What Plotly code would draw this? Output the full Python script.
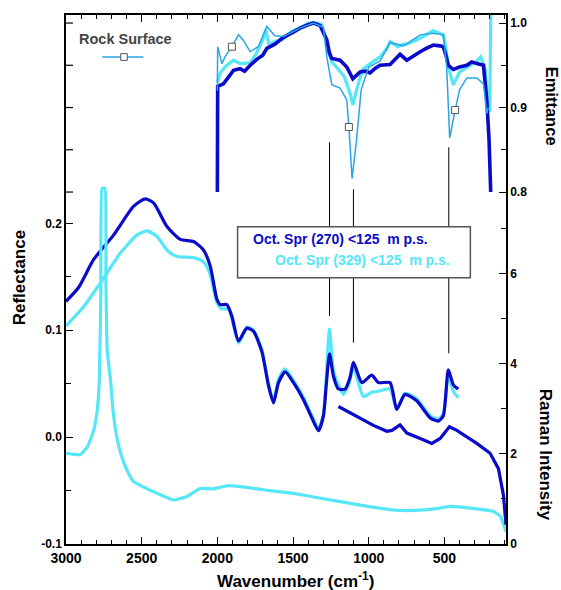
import plotly.graph_objects as go

# ---------------- data ----------------
# Reflectance (left axis)
refl_270_wn = [3000, 2917, 2818, 2686, 2554, 2476, 2420, 2333, 2245, 2157, 2091, 2047, 2003, 1981, 1937,
               1904, 1860, 1805, 1761, 1706, 1662, 1629, 1596, 1552, 1497, 1431, 1376, 1332, 1299, 1281,
               1259, 1233, 1200, 1156, 1123, 1101, 1045, 980, 936, 859, 815, 760, 683, 594, 540, 507, 474,
               441, 408]
refl_270 = [0.127, 0.140, 0.166, 0.189, 0.216, 0.223, 0.219, 0.197, 0.185, 0.183, 0.175, 0.160, 0.129,
            0.124, 0.124, 0.113, 0.090, 0.102, 0.099, 0.080, 0.048, 0.032, 0.051, 0.061, 0.051, 0.035,
            0.018, 0.006, 0.020, 0.048, 0.078, 0.057, 0.045, 0.045, 0.056, 0.070, 0.051, 0.058, 0.051,
            0.051, 0.026, 0.040, 0.034, 0.018, 0.015, 0.020, 0.063, 0.049, 0.045]

refl_329_wn = [3000, 2884, 2774, 2642, 2532, 2466, 2400, 2333, 2267, 2157, 2091, 2047, 2003, 1970, 1926,
               1904, 1860, 1805, 1761, 1706, 1662, 1629, 1596, 1552, 1497, 1431, 1376, 1332, 1299, 1281,
               1259, 1233, 1200, 1167, 1130, 1101, 1035, 980, 936, 859, 815, 760, 683, 594, 540, 507, 474,
               441, 408]
refl_329 = [0.104, 0.122, 0.144, 0.172, 0.189, 0.193, 0.188, 0.175, 0.169, 0.168, 0.164, 0.152, 0.126,
            0.120, 0.120, 0.111, 0.088, 0.103, 0.100, 0.082, 0.050, 0.034, 0.054, 0.064, 0.053, 0.037,
            0.020, 0.008, 0.022, 0.055, 0.101, 0.062, 0.049, 0.040, 0.050, 0.066, 0.038, 0.042, 0.043,
            0.045, 0.026, 0.041, 0.036, 0.020, 0.017, 0.022, 0.057, 0.043, 0.037]

# Raman intensity (right, lower)
raman_270_wn = [1200, 1078, 969, 880, 847, 793, 748, 660, 583, 528, 467, 418, 330, 286, 198, 143, 110, 93]
raman_270 = [3.05, 2.82, 2.63, 2.50, 2.52, 2.64, 2.46, 2.34, 2.23, 2.34, 2.60, 2.52, 2.34, 2.23, 2.01,
             1.67, 1.08, 0.42]

raman_329_wn = [3000, 2906, 2860, 2840, 2815, 2795, 2780, 2770, 2762, 2742, 2736, 2728, 2707, 2690, 2674,
                2650, 2620, 2585, 2554, 2500, 2443, 2350, 2289, 2200, 2113, 2027, 1937, 1850, 1717, 1673,
                1497, 1300, 1057, 837, 700, 550, 462, 300, 176, 130, 93]
raman_329 = [2.01, 1.98, 2.15, 2.30, 2.55, 2.93, 3.6, 5.5, 7.9, 7.9, 5.8, 4.3, 3.67, 3.0, 2.56, 2.15, 1.82,
             1.55, 1.38, 1.28, 1.19, 1.05, 0.97, 1.05, 1.23, 1.22, 1.29, 1.27, 1.21, 1.19, 1.12, 1.00,
             0.86, 0.75, 0.74, 0.78, 0.83, 0.78, 0.72, 0.61, 0.27]

# Emittance (right, upper)
emit_270_wn = [2000, 1998, 1960, 1930, 1893, 1850, 1820, 1783, 1740, 1700, 1673, 1620, 1563, 1510, 1453,
               1400, 1365, 1321, 1290, 1277, 1260, 1244, 1189, 1145, 1105, 1080, 1057, 1020, 991, 960, 925,
               859, 820, 793, 748, 700, 660, 620, 573, 530, 507, 490, 474, 441, 400, 352, 320, 286, 242,
               220, 205, 194]
emit_270 = [0.80, 0.925, 0.928, 0.935, 0.944, 0.946, 0.943, 0.950, 0.957, 0.962, 0.970, 0.975, 0.983,
            0.988, 0.994, 0.998, 1.0, 0.997, 0.985, 0.980, 0.965, 0.958, 0.956, 0.948, 0.934, 0.938, 0.942,
            0.943, 0.941, 0.946, 0.950, 0.951, 0.958, 0.963, 0.956, 0.962, 0.966, 0.970, 0.974, 0.973,
            0.972, 0.962, 0.950, 0.945, 0.948, 0.950, 0.954, 0.952, 0.950, 0.909, 0.862, 0.80]

emit_329_wn = [2000, 1980, 1950, 1893, 1850, 1783, 1740, 1700, 1680, 1660, 1620, 1563, 1510, 1453, 1400,
               1340, 1310, 1290, 1270, 1244, 1200, 1160, 1120, 1105, 1080, 1040, 991, 925, 880, 859, 810,
               770, 748, 660, 573, 530, 507, 490, 474, 441, 420, 400, 330, 286, 260, 230, 215, 200, 193]
emit_329 = [0.93, 0.941, 0.948, 0.956, 0.952, 0.953, 0.965, 0.980, 0.992, 0.975, 0.978, 0.981, 0.990,
            0.994, 1.0, 1.0, 0.998, 0.985, 0.968, 0.954, 0.945, 0.936, 0.915, 0.903, 0.921, 0.945, 0.952,
            0.960, 0.970, 0.978, 0.972, 0.975, 0.975, 0.982, 0.991, 0.988, 0.986, 0.970, 0.948, 0.927,
            0.935, 0.942, 0.950, 0.955, 0.960, 0.945, 0.909, 0.895, 1.03]

rock_wn = [2000, 1998, 1970, 1950, 1904, 1860, 1830, 1783, 1730, 1673, 1620, 1563, 1453, 1365, 1300, 1277,
           1244, 1189, 1145, 1131, 1110, 1080, 1050, 1000, 925, 859, 770, 660, 573, 507, 485, 465, 429,
           400, 352, 286, 242, 220, 210]
rock = [0.92, 0.972, 0.952, 0.960, 0.972, 0.986, 0.980, 0.966, 0.972, 0.996, 0.985, 0.984, 0.994, 1.0,
        0.995, 0.960, 0.927, 0.923, 0.909, 0.877, 0.816, 0.862, 0.921, 0.948, 0.955, 0.977, 0.973, 0.986,
        0.988, 0.986, 0.948, 0.864, 0.897, 0.921, 0.935, 0.935, 0.928, 0.893, 0.900]
rock_marker_wn = [1904, 1131, 429]
rock_marker = [0.972, 0.877, 0.897]

feature_lines_wn = [1259, 1101, 471]

x_ticks = [500, 1000, 1500, 2000, 2500, 3000]
refl_ticks = [-0.1, 0.0, 0.1, 0.2]
refl_ticktext = ["-0.1", "0.0", "0.1", "0.2"]
raman_ticks = [0, 2, 4, 6]
emit_ticks = [0.8, 0.9, 1.0]
emit_minor_ticks = [0.85, 0.95]
emit_ticktext = ["0.8", "0.9", "1.0"]

label_270 = "Oct. Spr (270) <125 \u00a0m p.s."
label_329 = "Oct. Spr (329) <125 \u00a0m p.s."
label_rock = "Rock Surface"

# ---------------- styles ----------------
DARK = "#0a0ac8"
CYAN = "#55e6f8"
ROCK = "#27a6e6"
FONT = "Liberation Sans, Arial, sans-serif"

fig = go.Figure()

# Reflectance
fig.add_trace(go.Scatter(x=refl_329_wn, y=refl_329, mode="lines", line=dict(color=CYAN, width=3.2, shape="spline", smoothing=0.6),
                         yaxis="y", showlegend=False))
fig.add_trace(go.Scatter(x=refl_270_wn, y=refl_270, mode="lines", line=dict(color=DARK, width=3.2, shape="spline", smoothing=0.6),
                         yaxis="y", showlegend=False))
# Raman
fig.add_trace(go.Scatter(x=raman_329_wn, y=raman_329, mode="lines", line=dict(color=CYAN, width=3.2, shape="spline", smoothing=0.3),
                         yaxis="y2", showlegend=False))
fig.add_trace(go.Scatter(x=raman_270_wn, y=raman_270, mode="lines", line=dict(color=DARK, width=3.2),
                         yaxis="y2", showlegend=False))
# Emittance
fig.add_trace(go.Scatter(x=emit_329_wn, y=emit_329, mode="lines", line=dict(color=CYAN, width=3.2),
                         yaxis="y3", showlegend=False))
fig.add_trace(go.Scatter(x=emit_270_wn, y=emit_270, mode="lines", line=dict(color=DARK, width=3.6),
                         yaxis="y3", showlegend=False))
fig.add_trace(go.Scatter(x=rock_wn, y=rock, mode="lines", line=dict(color=ROCK, width=1.5),
                         yaxis="y3", showlegend=False))
fig.add_trace(go.Scatter(x=rock_marker_wn, y=rock_marker, mode="markers",
                         marker=dict(symbol="square", size=7, color="white", line=dict(color="#555555", width=1)),
                         yaxis="y3", showlegend=False))

tickfont_x = dict(family=FONT, size=14, color="black", weight="bold")
tickfont_y = dict(family=FONT, size=12, color="black", weight="bold")
emit_range = [0.3835, 1.0095]

fig.update_layout(
    width=561, height=590,
    margin=dict(l=66, r=55, t=15, b=46),
    paper_bgcolor="white", plot_bgcolor="white",
    xaxis=dict(range=[3000, 93], tickmode="array", tickvals=x_ticks, ticks="inside", ticklen=7, tickwidth=1.2,
               tickcolor="black", showline=True, linecolor="black", linewidth=1.5, mirror="ticks",
               showgrid=False, zeroline=False, tickfont=tickfont_x,
               minor=dict(dtick=100, ticks="inside", ticklen=4, tickcolor="black", tickwidth=1, showgrid=False)),
    yaxis=dict(range=[-0.1, 0.395], tickmode="array", tickvals=refl_ticks, ticktext=refl_ticktext,
               ticks="inside", ticklen=7, tickwidth=1.2, tickcolor="black", showline=True, linecolor="black",
               linewidth=1.5, showgrid=False, zeroline=False, tickfont=tickfont_y,
               minor=dict(tickvals=[-0.05, 0.05, 0.15], ticks="inside", ticklen=5, tickcolor="black", showgrid=False)),
    yaxis2=dict(range=[-0.005, 11.75], overlaying="y", side="right", anchor="x", tickmode="array",
                tickvals=raman_ticks, ticks="inside", ticklen=7, tickwidth=1.2, tickcolor="black",
                showline=True, linecolor="black", linewidth=1.5, showgrid=False, zeroline=False,
                tickfont=tickfont_y,
                minor=dict(tickvals=[1, 3, 5, 7], ticks="inside", ticklen=5, tickcolor="black", showgrid=False)),
    yaxis3=dict(range=emit_range, overlaying="y", side="right", anchor="x", tickmode="array",
                tickvals=emit_ticks, ticktext=emit_ticktext, ticks="inside", ticklen=7, tickwidth=1.2,
                tickcolor="black", showline=True, linecolor="black", linewidth=1.5,
                showgrid=False, zeroline=False, tickfont=tickfont_y,
                minor=dict(tickvals=emit_minor_ticks, ticks="inside", ticklen=5, tickcolor="black", showgrid=False)),
    showlegend=False,
)

shapes = []
# left-side copy of the emittance ticks (axis decoration)
for v in emit_ticks + emit_minor_ticks:
    shapes.append(dict(type="line", xref="paper", yref="y3", x0=0, x1=7 / 440, y0=v, y1=v,
                       line=dict(color="black", width=1.2), layer="above"))
# feature lines and legend box
line_spans = [(0.7594, 0.431), (0.6705, 0.3805), (0.7499, 0.3605)]
for wn, (y0, y1) in zip(feature_lines_wn, line_spans):
    shapes.append(dict(type="line", xref="x", yref="paper", x0=wn, x1=wn, y0=y0, y1=y1,
                       line=dict(color="black", width=1), layer="above"))
shapes.append(dict(type="rect", xref="paper", yref="paper", x0=0.390, x1=0.919, y0=0.5034, y1=0.5998,
                   fillcolor="white", line=dict(color="#555555", width=1.5), layer="above"))
# Rock surface legend sample
shapes.append(dict(type="line", xref="paper", yref="paper", x0=0.0825, x1=0.1757, y0=0.9206, y1=0.9206,
                   line=dict(color=ROCK, width=1.5), layer="above"))
shapes.append(dict(type="rect", xref="paper", yref="paper", x0=0.1318 - 0.0075, x1=0.1318 + 0.0075,
                   y0=0.9206 - 0.0064, y1=0.9206 + 0.0064, fillcolor="white",
                   line=dict(color="#555555", width=1), layer="above"))
fig.update_layout(shapes=shapes)

bold = lambda s, c: dict(family=FONT, size=s, color=c, weight="bold")
annotations = [
    dict(text=label_270, x=0.4205, y=0.576, xref="paper", yref="paper", xanchor="left", yanchor="middle",
         showarrow=False, font=bold(14, DARK)),
    dict(text=label_329, x=0.4705, y=0.537, xref="paper", yref="paper", xanchor="left", yanchor="middle",
         showarrow=False, font=bold(14, CYAN)),
    dict(text=label_rock, x=0.0257, y=0.954, xref="paper", yref="paper", xanchor="left", yanchor="middle",
         showarrow=False, font=bold(14.5, "#444444")),
    dict(text="Reflectance", x=-0.107, y=0.504, xref="paper", yref="paper", textangle=-90,
         xanchor="center", yanchor="middle", showarrow=False, font=bold(17, "black")),
    dict(text="Emittance", x=1.1045, y=0.8267, xref="paper", yref="paper", textangle=90,
         xanchor="center", yanchor="middle", showarrow=False, font=bold(16.5, "black")),
    dict(text="Raman Intensity", x=1.0916, y=0.168, xref="paper", yref="paper", textangle=90,
         xanchor="center", yanchor="middle", showarrow=False, font=bold(17, "black")),
    dict(text="Wavenumber (cm<sup>-1</sup>)", x=0.522, y=-0.068, xref="paper", yref="paper",
         xanchor="center", yanchor="middle", showarrow=False, font=bold(17, "black")),
]
fig.update_layout(annotations=annotations)

fig.write_html("out.html")
